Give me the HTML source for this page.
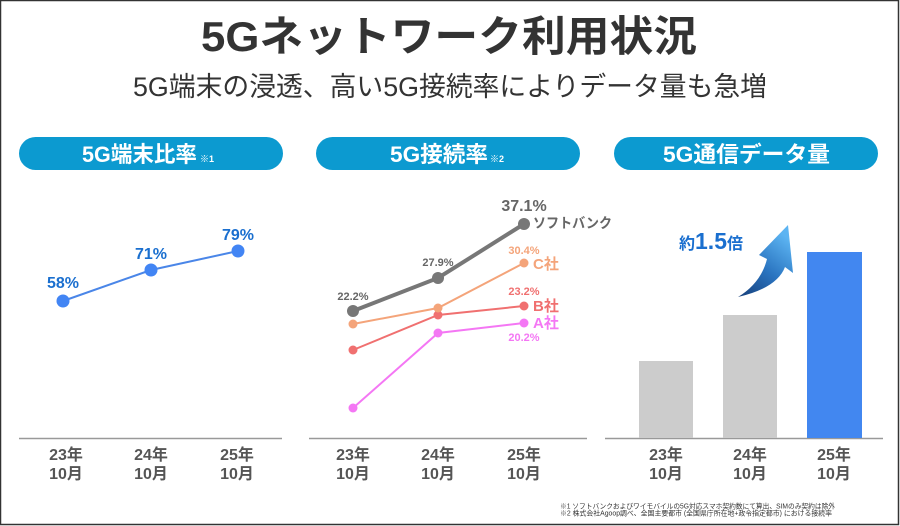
<!DOCTYPE html>
<html><head><meta charset="utf-8"><style>
html,body{margin:0;padding:0;background:#fff;}
svg{display:block;}
text{font-family:"Liberation Sans","Noto Sans CJK JP",sans-serif;}
</style></head><body>
<svg width="900" height="526" viewBox="0 0 900 526" xmlns="http://www.w3.org/2000/svg">
<defs>
<linearGradient id="ag" x1="0" y1="1" x2="0.6" y2="0">
<stop offset="0" stop-color="#163f7a"/>
<stop offset="0.5" stop-color="#2a74c0"/>
<stop offset="1" stop-color="#5cb4f2"/>
</linearGradient>
</defs>
<rect x="0" y="0" width="900" height="526" fill="#fff"/>
<rect x="0.5" y="0.5" width="898" height="524" fill="none" stroke="#333" stroke-width="1.5"/>

<!-- Title -->
<text x="449" y="51" text-anchor="middle" font-size="42" font-weight="bold" fill="#333" textLength="496" lengthAdjust="spacingAndGlyphs">5Gネットワーク利用状況</text>
<text x="450" y="96" text-anchor="middle" font-size="27" fill="#333" textLength="634" lengthAdjust="spacingAndGlyphs">5G端末の浸透、高い5G接続率によりデータ量も急増</text>

<!-- Pills -->
<rect x="19" y="137" width="264" height="33" rx="16.5" fill="#0c9ad0"/>
<rect x="316" y="137" width="264" height="33" rx="16.5" fill="#0c9ad0"/>
<rect x="614" y="137" width="264" height="33" rx="16.5" fill="#0c9ad0"/>
<text x="82" y="162" font-size="22" font-weight="bold" fill="#fff" textLength="115" lengthAdjust="spacingAndGlyphs">5G端末比率</text>
<text x="200" y="162" font-size="9" font-weight="bold" fill="#fff">※1</text>
<text x="390" y="162" font-size="22" font-weight="bold" fill="#fff" textLength="98" lengthAdjust="spacingAndGlyphs">5G接続率</text>
<text x="490" y="162" font-size="9" font-weight="bold" fill="#fff">※2</text>
<text x="663" y="162" font-size="22" font-weight="bold" fill="#fff" textLength="167" lengthAdjust="spacingAndGlyphs">5G通信データ量</text>

<!-- Baselines -->
<line x1="19" y1="438.5" x2="282" y2="438.5" stroke="#999" stroke-width="1.5"/>
<line x1="309" y1="438.5" x2="587" y2="438.5" stroke="#999" stroke-width="1.5"/>
<line x1="605" y1="438.5" x2="883" y2="438.5" stroke="#999" stroke-width="1.5"/>

<!-- Chart 1 -->
<polyline points="63,301 151,270 238,251" fill="none" stroke="#4a86e8" stroke-width="2"/>
<circle cx="63" cy="301" r="6.5" fill="#4285f4"/>
<circle cx="151" cy="270" r="6.5" fill="#4285f4"/>
<circle cx="238" cy="251" r="6.5" fill="#4285f4"/>
<text x="63" y="288" text-anchor="middle" font-size="16" font-weight="bold" fill="#1a6fcf">58%</text>
<text x="151" y="259" text-anchor="middle" font-size="16" font-weight="bold" fill="#1a6fcf">71%</text>
<text x="238" y="240" text-anchor="middle" font-size="16" font-weight="bold" fill="#1a6fcf">79%</text>

<!-- Chart 2 -->
<polyline points="353,408 438,333 524,323" fill="none" stroke="#f477f4" stroke-width="2"/>
<polyline points="353,350 438,315 524,306" fill="none" stroke="#f07070" stroke-width="2"/>
<polyline points="353,324 438,308 524,263" fill="none" stroke="#f4a47a" stroke-width="2"/>
<polyline points="353,311 438,278 524,224" fill="none" stroke="#777" stroke-width="4"/>
<g fill="#f477f4"><circle cx="353" cy="408" r="4.5"/><circle cx="438" cy="333" r="4.5"/><circle cx="524" cy="323" r="4.5"/></g>
<g fill="#f07070"><circle cx="353" cy="350" r="4.5"/><circle cx="438" cy="315" r="4.5"/><circle cx="524" cy="306" r="4.5"/></g>
<g fill="#f4a47a"><circle cx="353" cy="324" r="4.5"/><circle cx="438" cy="308" r="4.5"/><circle cx="524" cy="263" r="4.5"/></g>
<g fill="#777"><circle cx="353" cy="311" r="6"/><circle cx="438" cy="278" r="6"/><circle cx="524" cy="224" r="6"/></g>
<text x="353" y="300" text-anchor="middle" font-size="11" font-weight="bold" fill="#666">22.2%</text>
<text x="438" y="266" text-anchor="middle" font-size="11" font-weight="bold" fill="#666">27.9%</text>
<text x="524" y="211" text-anchor="middle" font-size="16" font-weight="bold" fill="#666">37.1%</text>
<text x="533" y="228" font-size="14" font-weight="bold" fill="#666" textLength="79" lengthAdjust="spacingAndGlyphs">ソフトバンク</text>
<text x="524" y="254" text-anchor="middle" font-size="11" font-weight="bold" fill="#f4a47a">30.4%</text>
<text x="533" y="269" font-size="15" font-weight="bold" fill="#f4a47a">C社</text>
<text x="524" y="295" text-anchor="middle" font-size="11" font-weight="bold" fill="#f07070">23.2%</text>
<text x="533" y="311" font-size="15" font-weight="bold" fill="#f07070">B社</text>
<text x="533" y="328" font-size="15" font-weight="bold" fill="#f477f4">A社</text>
<text x="524" y="341" text-anchor="middle" font-size="11" font-weight="bold" fill="#f477f4">20.2%</text>

<!-- Chart 3 -->
<rect x="639" y="361" width="54" height="77" fill="#cccccc"/>
<rect x="723" y="315" width="54" height="123" fill="#cccccc"/>
<rect x="807" y="252" width="55" height="186" fill="#4287f0"/>
<path d="M738,297 Q777,288 785,267 L793,273 L788,225 L759,255 L767,259 Q761,283 738,297 Z" fill="url(#ag)"/>
<text x="679" y="249" font-weight="bold" fill="#1a6fcf"><tspan font-size="16">約</tspan><tspan font-size="23">1.5</tspan><tspan font-size="16">倍</tspan></text>

<!-- X labels -->
<g font-size="16" font-weight="bold" fill="#555" text-anchor="middle">
<text x="66" y="460">23年</text><text x="66" y="479">10月</text>
<text x="151" y="460">24年</text><text x="151" y="479">10月</text>
<text x="237" y="460">25年</text><text x="237" y="479">10月</text>
<text x="353" y="460">23年</text><text x="353" y="479">10月</text>
<text x="438" y="460">24年</text><text x="438" y="479">10月</text>
<text x="524" y="460">25年</text><text x="524" y="479">10月</text>
<text x="666" y="460">23年</text><text x="666" y="479">10月</text>
<text x="750" y="460">24年</text><text x="750" y="479">10月</text>
<text x="834" y="460">25年</text><text x="834" y="479">10月</text>
</g>

<!-- Footnotes -->
<text x="560" y="508.5" font-size="7" fill="#333" textLength="275" lengthAdjust="spacingAndGlyphs">※1 ソフトバンクおよびワイモバイルの5G対応スマホ契約数にて算出、SIMのみ契約は除外</text>
<text x="560" y="515.5" font-size="7" fill="#333" textLength="272" lengthAdjust="spacingAndGlyphs">※2 株式会社Agoop調べ、全国主要都市 (全国県庁所在地+政令指定都市) における接続率</text>
</svg>
</body></html>
